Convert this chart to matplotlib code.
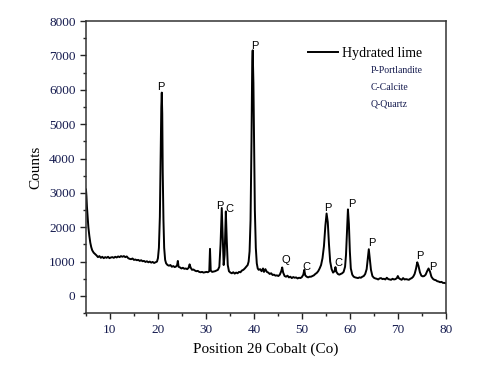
import matplotlib
matplotlib.use("Agg")
import matplotlib.pyplot as plt
from matplotlib.ticker import MultipleLocator

# --- XRD pattern of hydrated lime ---
two_theta = [
    5.0, 5.1, 5.2, 5.35, 5.5, 5.7, 5.9, 6.1, 6.3, 6.6, 6.9, 7.2, 7.5, 7.8, 8.1, 8.4, 8.7, 9.0,
    9.3, 9.6, 9.9, 10.2, 10.5, 10.8, 11.1, 11.4, 11.7, 12.0, 12.3, 12.6, 12.9, 13.2, 13.5, 13.8,
    14.1, 14.4, 14.7, 15.0, 15.3, 15.6, 15.9, 16.2, 16.5, 16.8, 17.1, 17.4, 17.7, 18.0, 18.3,
    18.6, 18.9, 19.2, 19.5, 19.8, 20.0, 20.2, 20.4, 20.55, 20.7, 20.8, 20.9, 21.0, 21.15, 21.3,
    21.5, 21.7, 22.0, 22.3, 22.6, 22.9, 23.2, 23.5, 23.8, 24.0, 24.15, 24.3, 24.6, 24.9, 25.2,
    25.5, 25.8, 26.1, 26.4, 26.6, 26.8, 27.1, 27.4, 27.7, 28.0, 28.3, 28.6, 28.9, 29.2, 29.5,
    29.8, 30.1, 30.4, 30.7, 30.85, 31.0, 31.3, 31.6, 31.9, 32.2, 32.5, 32.8, 33.05, 33.3, 33.5,
    33.7, 33.9, 34.15, 34.35, 34.55, 34.8, 35.1, 35.4, 35.7, 36.0, 36.3, 36.6, 36.9, 37.2, 37.5,
    37.8, 38.1, 38.4, 38.7, 38.9, 39.1, 39.3, 39.5, 39.65, 39.75, 39.9, 40.05, 40.2, 40.4, 40.6,
    40.8, 41.0, 41.3, 41.6, 41.9, 42.1, 42.4, 42.7, 43.0, 43.3, 43.6, 43.9, 44.2, 44.5, 44.8,
    45.1, 45.4, 45.7, 45.9, 46.1, 46.4, 46.7, 47.0, 47.3, 47.6, 47.9, 48.2, 48.5, 48.8, 49.1,
    49.4, 49.7, 50.0, 50.3, 50.5, 50.7, 51.0, 51.3, 51.6, 51.9, 52.2, 52.5, 52.8, 53.1, 53.4,
    53.7, 54.0, 54.3, 54.6, 54.9, 55.15, 55.4, 55.65, 55.9, 56.2, 56.5, 56.8, 57.0, 57.2, 57.5,
    57.8, 58.1, 58.4, 58.7, 59.0, 59.2, 59.4, 59.6, 59.8, 60.0, 60.2, 60.5, 60.8, 61.1, 61.4,
    61.7, 62.0, 62.3, 62.6, 62.9, 63.2, 63.5, 63.75, 63.95, 64.15, 64.4, 64.7, 65.0, 65.3, 65.6,
    65.9, 66.2, 66.5, 66.8, 67.1, 67.4, 67.7, 68.0, 68.3, 68.6, 68.9, 69.2, 69.5, 69.8, 70.0,
    70.2, 70.5, 70.8, 71.1, 71.4, 71.7, 72.0, 72.3, 72.6, 72.9, 73.2, 73.5, 73.8, 74.05, 74.3,
    74.6, 74.9, 75.2, 75.5, 75.8, 76.1, 76.4, 76.7, 77.0, 77.3, 77.6, 77.9, 78.2, 78.5, 78.8,
    79.1, 79.4, 79.7, 80.0,
]
counts = [
    3100, 2900, 2600, 2300, 2000, 1750, 1550, 1420, 1330, 1260, 1220, 1180, 1130, 1160, 1110, 1140, 1100, 1130,
    1110, 1140, 1100, 1120, 1130, 1110, 1140, 1120, 1150, 1130, 1160, 1140, 1160, 1130, 1150, 1100,
    1080, 1070, 1090, 1050, 1060, 1040, 1050, 1020, 1040, 1010, 1020, 990, 1010, 980, 1000,
    970, 990, 960, 980, 1000, 1100, 1400, 2300, 3800, 5500, 5920, 5300, 3600, 2200, 1400,
    1050, 950, 900, 880, 900, 850, 870, 840, 860, 900, 1020, 850, 830, 800, 820,
    790, 800, 780, 820, 920, 830, 760, 770, 740, 720, 730, 700, 690, 700, 680,
    690, 700, 690, 720, 1370, 740, 700, 710, 720, 740, 760, 850, 1500, 2560, 1700,
    900, 1200, 2460, 1600, 900, 720, 680, 660, 690, 650, 680, 660, 700, 690, 740,
    760, 800, 850, 900, 1000, 1300, 2200, 4500, 6800, 7150, 6200, 4200, 2500, 1400, 950,
    800, 760, 780, 720, 800, 700, 780, 700, 680, 640, 660, 610, 620, 590, 600,
    580, 620, 720, 830, 680, 580, 560, 590, 540, 560, 520, 550, 530, 540, 510,
    530, 520, 550, 620, 760, 600, 560, 540, 560, 560, 580, 600, 640, 670, 720,
    800, 900, 1100, 1450, 2050, 2400, 2150, 1500, 1000, 780, 680, 720, 840, 700, 640,
    620, 640, 660, 700, 850, 1200, 1900, 2520, 2100, 1300, 800, 620, 560, 540, 530,
    520, 540, 530, 560, 580, 640, 780, 1100, 1360, 1100, 760, 580, 530, 510, 500,
    480, 510, 520, 490, 500, 480, 530, 490, 480, 470, 500, 480, 490, 520, 580,
    520, 490, 470, 520, 480, 490, 480, 470, 500, 520, 560, 640, 800, 980, 880,
    690, 590, 570, 580, 620, 720, 800, 710, 560, 500, 470, 460, 430, 420, 400,
    410, 380, 380, 370,
]

# phase labels above the peaks
peak_labels = ["P", "P", "P", "C", "Q", "C", "P", "C", "P", "P", "P", "P"]
label_x = [20.6, 40.2, 32.9, 35.0, 46.6, 51.0, 55.35, 57.7, 60.4, 64.5, 74.6, 77.3]
label_y = [6090, 7290, 2620, 2540, 1050, 845, 2570, 960, 2680, 1545, 1165, 845]

phase_notes = ["P-Portlandite", "C-Calcite", "Q-Quartz"]

navy = "#141a4e"
serif = ["Liberation Serif", "DejaVu Serif"]

fig = plt.figure(figsize=(4.83, 3.71), dpi=100)
ax = fig.add_axes([0.178, 0.156, 0.745, 0.787])

ax.plot(two_theta, counts, color="black", lw=1.4, label="Hydrated lime")

for t, x, y in zip(peak_labels, label_x, label_y):
    ax.text(x, y, t, ha="center", va="center", fontsize=8,
            family=["Liberation Sans", "DejaVu Sans"], color="black")

ax.set_xlim(5, 80)
ax.set_ylim(-500, 8000)
ax.xaxis.set_major_locator(MultipleLocator(10))
ax.xaxis.set_minor_locator(MultipleLocator(5))
ax.yaxis.set_major_locator(MultipleLocator(1000))
ax.yaxis.set_minor_locator(MultipleLocator(500))
ax.set_xticks(range(10, 81, 10))
ax.tick_params(which="major", direction="out", length=4, width=1, colors="#222222",
               labelcolor=navy, labelsize=9.5)
ax.tick_params(which="minor", direction="out", length=2.5, width=1, colors="#222222")
for lab in ax.get_xticklabels() + ax.get_yticklabels():
    lab.set_family(serif)
for s in ax.spines.values():
    s.set_color("#333333")
    s.set_linewidth(1.1)

ax.set_xlabel("Position 2θ Cobalt (Co)", fontsize=11, family=serif, labelpad=5)
ax.set_ylabel("Counts", fontsize=11, family=serif, labelpad=5)

leg = ax.legend(loc="center left", bbox_to_anchor=(0.616, 0.89), frameon=False,
                handlelength=2.2, handletextpad=0.3, borderpad=0, borderaxespad=0,
                prop={"family": serif, "size": 10})
for t in leg.get_texts():
    t.set_color("black")

for i, note in enumerate(phase_notes):
    ax.text(0.792, 0.832 - 0.058 * i, note, transform=ax.transAxes, ha="left",
            va="center", fontsize=7, family=serif, color=navy)

fig.savefig("out.png", dpi=100)
